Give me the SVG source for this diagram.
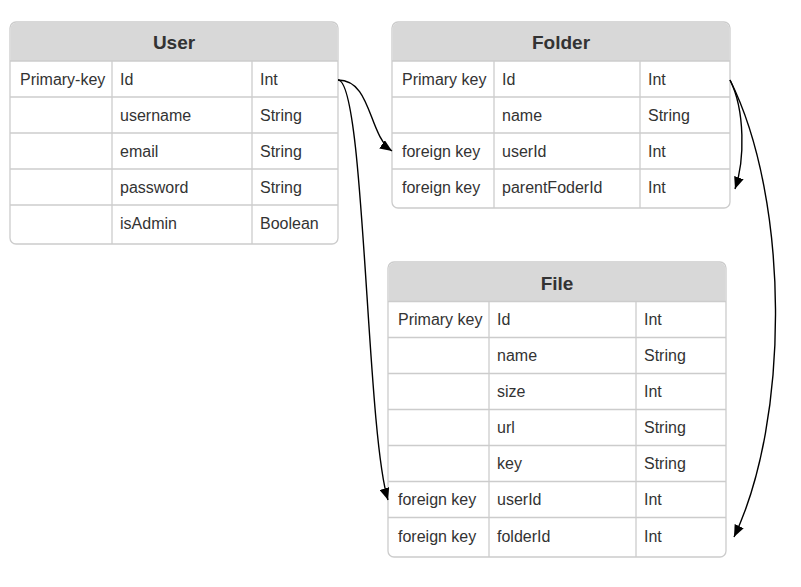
<svg xmlns="http://www.w3.org/2000/svg" width="801" height="587" viewBox="0 0 801 587">
<style>
.box{fill:#fff;stroke:#ccc;stroke-width:1.3}
.hdr{fill:#d8d8d8}
.ln{stroke:#ccc;stroke-width:1.3}
.title{font-family:"Liberation Sans",Arial,sans-serif;font-size:19px;font-weight:bold;fill:#333;text-anchor:middle}
.t{font-family:"Liberation Sans",Arial,sans-serif;font-size:16px;fill:#333}
.edge{fill:none;stroke:#000;stroke-width:1.4;marker-end:url(#arr)}
</style>
<defs>
<marker id="arr" viewBox="0 0 12 10" refX="12" refY="5" markerWidth="12" markerHeight="10" markerUnits="userSpaceOnUse" orient="auto">
<path d="M0,0 L12,5 L0,10 Z" fill="#000"/>
</marker>
</defs>
<rect width="801" height="587" fill="#fff"/>
<g id="User">
<rect class="box" x="10" y="22" width="328" height="222" rx="6"/>
<path class="hdr" d="M10.7,61 V28 A5.3,5.3 0 0 1 16,22.7 H332 A5.3,5.3 0 0 1 337.3,28 V61 Z"/>
<line class="ln" x1="10" y1="61" x2="338" y2="61"/>
<line class="ln" x1="10" y1="97" x2="338" y2="97"/>
<line class="ln" x1="10" y1="133" x2="338" y2="133"/>
<line class="ln" x1="10" y1="169" x2="338" y2="169"/>
<line class="ln" x1="10" y1="205" x2="338" y2="205"/>
<line class="ln" x1="112" y1="61" x2="112" y2="244"/>
<line class="ln" x1="252" y1="61" x2="252" y2="244"/>
<text class="title" x="174" y="49">User</text>
<text class="t" x="20" y="85">Primary-key</text><text class="t" x="120" y="85">Id</text><text class="t" x="260" y="85">Int</text>
<text class="t" x="120" y="121">username</text><text class="t" x="260" y="121">String</text>
<text class="t" x="120" y="157">email</text><text class="t" x="260" y="157">String</text>
<text class="t" x="120" y="193">password</text><text class="t" x="260" y="193">String</text>
<text class="t" x="120" y="229">isAdmin</text><text class="t" x="260" y="229">Boolean</text>
</g>
<g id="Folder">
<rect class="box" x="392" y="22" width="338" height="186" rx="6"/>
<path class="hdr" d="M392.7,61 V28 A5.3,5.3 0 0 1 398,22.7 H724 A5.3,5.3 0 0 1 729.3,28 V61 Z"/>
<line class="ln" x1="392" y1="61" x2="730" y2="61"/>
<line class="ln" x1="392" y1="97" x2="730" y2="97"/>
<line class="ln" x1="392" y1="133" x2="730" y2="133"/>
<line class="ln" x1="392" y1="169" x2="730" y2="169"/>
<line class="ln" x1="494" y1="61" x2="494" y2="208"/>
<line class="ln" x1="640" y1="61" x2="640" y2="208"/>
<text class="title" x="561" y="49">Folder</text>
<text class="t" x="402" y="85">Primary key</text><text class="t" x="502" y="85">Id</text><text class="t" x="648" y="85">Int</text>
<text class="t" x="502" y="121">name</text><text class="t" x="648" y="121">String</text>
<text class="t" x="402" y="157">foreign key</text><text class="t" x="502" y="157">userId</text><text class="t" x="648" y="157">Int</text>
<text class="t" x="402" y="193">foreign key</text><text class="t" x="502" y="193">parentFoderId</text><text class="t" x="648" y="193">Int</text>
</g>
<g id="File">
<rect class="box" x="388" y="262" width="338" height="295" rx="6"/>
<path class="hdr" d="M388.7,301.5 V268 A5.3,5.3 0 0 1 394,262.7 H720 A5.3,5.3 0 0 1 725.3,268 V301.5 Z"/>
<line class="ln" x1="388" y1="301.5" x2="726" y2="301.5"/>
<line class="ln" x1="388" y1="337.5" x2="726" y2="337.5"/>
<line class="ln" x1="388" y1="373.5" x2="726" y2="373.5"/>
<line class="ln" x1="388" y1="409.5" x2="726" y2="409.5"/>
<line class="ln" x1="388" y1="445.5" x2="726" y2="445.5"/>
<line class="ln" x1="388" y1="481.5" x2="726" y2="481.5"/>
<line class="ln" x1="388" y1="517.5" x2="726" y2="517.5"/>
<line class="ln" x1="489" y1="301.5" x2="489" y2="557"/>
<line class="ln" x1="636" y1="301.5" x2="636" y2="557"/>
<text class="title" x="557" y="290">File</text>
<text class="t" x="398" y="325">Primary key</text><text class="t" x="497" y="325">Id</text><text class="t" x="644" y="325">Int</text>
<text class="t" x="497" y="361">name</text><text class="t" x="644" y="361">String</text>
<text class="t" x="497" y="397">size</text><text class="t" x="644" y="397">Int</text>
<text class="t" x="497" y="433">url</text><text class="t" x="644" y="433">String</text>
<text class="t" x="497" y="469">key</text><text class="t" x="644" y="469">String</text>
<text class="t" x="398" y="505">foreign key</text><text class="t" x="497" y="505">userId</text><text class="t" x="644" y="505">Int</text>
<text class="t" x="398" y="542">foreign key</text><text class="t" x="497" y="542">folderId</text><text class="t" x="644" y="542">Int</text>
</g>
<g id="connectors">
<path class="edge" d="M338,80 C372,80 368,135 392,151"/>
<path class="edge" d="M338,80 C365,80 366,430 388,500"/>
<path class="edge" d="M730,80 C745,110 745,160 735,189"/>
<path class="edge" d="M730,80 C790,200 790,420 734,537"/>
</g>
</svg>
